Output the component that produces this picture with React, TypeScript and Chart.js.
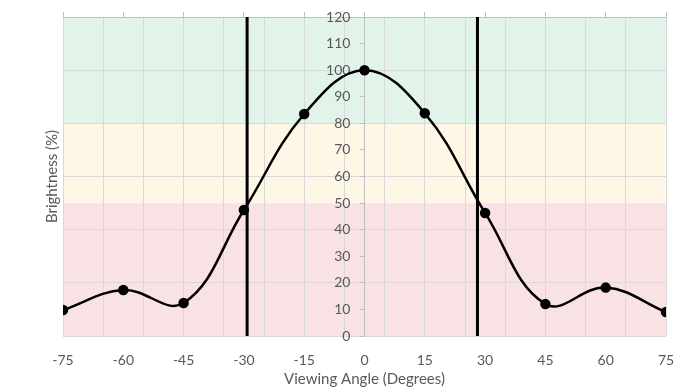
import React, { useEffect, useRef } from 'react';
import { Chart, registerables } from 'chart.js';

Chart.register(...registerables);

// Data
const angles = [-75, -60, -45, -30, -15, 0, 15, 30, 45, 60, 75];
const brightness = [9.8, 17.3, 12.4, 47.4, 83.5, 100, 83.8, 46.3, 12, 18.2, 9];
const cutoffAngles = [-29.2, 28.1];
const xLabelTicks = [-75, -60, -45, -30, -15, 0, 15, 30, 45, 60, 75];
const xGridTicks = [-75, -65, -55, -45, -35, -25, -15, -5, 5, 15, 25, 35, 45, 55, 65, 75];
const bandLimits = [0, 50, 80, 120];
const bandColors = ['#f9e2e3', '#fef7e5', '#e2f3e9'];

const FONT = 'Lato, "Open Sans", sans-serif';
const TEXT = '#595959';
const GRID = '#d9d9d9';
const AXIS = '#bfbfbf';

const bandsPlugin = {
  id: 'bands',
  beforeDraw(chart: any) {
    const { ctx, chartArea } = chart;
    const y = chart.scales.y;
    ctx.save();
    for (let i = 0; i < bandColors.length; i++) {
      const top = y.getPixelForValue(bandLimits[i + 1]);
      const bottom = y.getPixelForValue(bandLimits[i]);
      ctx.fillStyle = bandColors[i];
      ctx.fillRect(chartArea.left, top, chartArea.right - chartArea.left, bottom - top);
    }
    ctx.restore();
  },
};

export default function App() {
  const ref = useRef<HTMLCanvasElement | null>(null);

  useEffect(() => {
    document.body.style.margin = '0';
    const canvas = ref.current;
    if (!canvas) return;
    const cutDatasets = cutoffAngles.map((a) => ({
      data: [
        { x: a, y: bandLimits[0] },
        { x: a, y: bandLimits[bandLimits.length - 1] },
      ],
      borderColor: '#000000',
      borderWidth: 3,
      pointRadius: 0,
      tension: 0,
    }));
    const chart = new Chart(canvas, {
      type: 'line',
      data: {
        datasets: [
          {
            data: angles.map((a, i) => ({ x: a, y: brightness[i] })),
            borderColor: '#000000',
            borderWidth: 2.5,
            pointRadius: 4,
            pointBackgroundColor: '#000000',
            pointBorderColor: '#000000',
            tension: 0.4,
          },
          ...cutDatasets,
        ],
      },
      options: {
        animation: false,
        responsive: false,
        layout: { padding: { left: 0, right: 27, top: 0, bottom: 0 } },
        plugins: { legend: { display: false }, tooltip: { enabled: false } },
        scales: {
          x: {
            type: 'linear',
            position: 'bottom',
            min: -75,
            max: 75,
            afterBuildTicks: (s: any) => {
              s.ticks = xLabelTicks.map((v) => ({ value: v }));
            },
            ticks: { color: TEXT, font: { family: FONT, size: 14 }, padding: 16, maxRotation: 0 },
            grid: { display: false, drawTicks: false },
            border: { display: false },
            title: {
              display: true,
              text: 'Viewing Angle (Degrees)',
              color: TEXT,
              font: { family: FONT, size: 15 },
              padding: { top: 0, bottom: 2 },
            },
            afterFit: (s: any) => {
              s.height = 54;
            },
          },
          xt: {
            type: 'linear',
            position: 'top',
            min: -75,
            max: 75,
            afterBuildTicks: (s: any) => {
              s.ticks = xLabelTicks.map((v) => ({ value: v }));
            },
            ticks: { display: false },
            grid: { drawOnChartArea: false, drawTicks: true, tickLength: 5, color: AXIS },
            border: { display: true, color: AXIS },
            afterFit: (s: any) => {
              s.height = 17;
            },
          },
          xg: {
            type: 'linear',
            position: 'top',
            min: -75,
            max: 75,
            afterBuildTicks: (s: any) => {
              s.ticks = xGridTicks.map((v) => ({ value: v }));
            },
            ticks: { display: false },
            grid: { color: GRID, drawTicks: false },
            border: { display: false },
            afterFit: (s: any) => {
              s.height = 0;
            },
          },
          y: {
            type: 'linear',
            position: { x: 0 } as any,
            min: 0,
            max: 120,
            ticks: { stepSize: 10, display: false },
            grid: {
              color: (c: any) => (c.tick && c.tick.value % 20 === 0 ? GRID : 'rgba(0,0,0,0)'),
              tickColor: AXIS,
              tickLength: 4,
              drawTicks: true,
            },
            border: { display: true, color: AXIS },
          },
          yl: {
            type: 'linear',
            position: { x: -3.5 } as any,
            min: 0,
            max: 120,
            ticks: { stepSize: 10, color: TEXT, font: { family: FONT, size: 14 } },
            grid: { display: false },
            border: { display: false },
          },
          yt: {
            type: 'linear',
            position: 'left',
            min: 0,
            max: 120,
            ticks: { display: false },
            grid: { display: false },
            border: { display: false },
            title: {
              display: true,
              text: 'Brightness (%)',
              color: TEXT,
              font: { family: FONT, size: 15 },
              padding: { top: 43, bottom: 0 },
            },
            afterFit: (s: any) => {
              s.width = 63;
            },
          },
        },
      } as any,
      plugins: [bandsPlugin],
    });
    return () => chart.destroy();
  }, []);

  return (
    <div style={{ width: 693, height: 390 }}>
      <canvas ref={ref} width={693} height={390} style={{ display: 'block' }} />
    </div>
  );
}
